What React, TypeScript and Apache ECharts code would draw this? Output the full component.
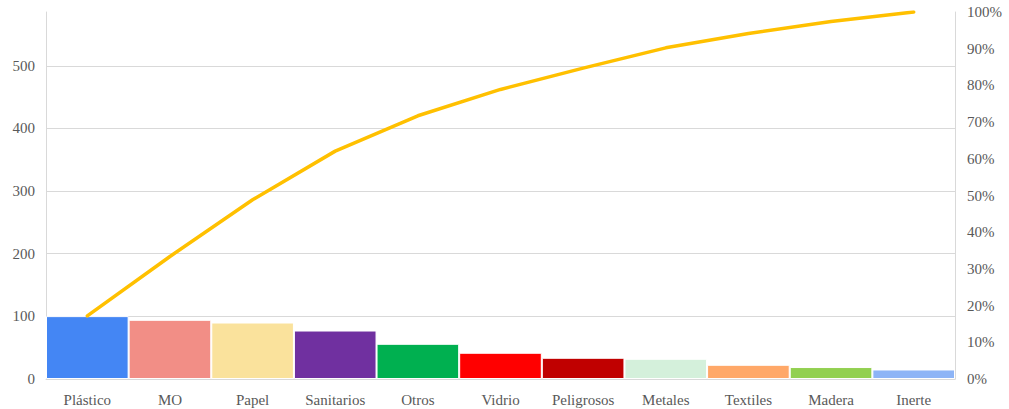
import React, { useEffect, useRef } from "react";
import * as echarts from "echarts";

const categories = ["Plástico", "MO", "Papel", "Sanitarios", "Otros", "Vidrio", "Peligrosos", "Metales", "Textiles", "Madera", "Inerte"];
const values = [100.4, 94.5, 90.2, 77.4, 56.2, 41.9, 33.9, 32.3, 22.7, 19.1, 15.2];
const barColors = ["#4486F4", "#F28E86", "#FAE29C", "#7030A0", "#00B050", "#FF0000", "#C00000", "#D4F0DB", "#FFA868", "#92D050", "#8DB4F6"];
const leftGridTicks = [100, 200, 300, 400, 500];
const leftMax = 586;

export default function App() {
  const ref = useRef<HTMLDivElement>(null);
  useEffect(() => {
    if (!ref.current) return;
    const chart = echarts.init(ref.current, undefined, { renderer: "svg" });
    const total = values.reduce((a, b) => a + b, 0);
    let acc = 0;
    const cumulative = values.map((v) => {
      acc += v;
      return acc / total;
    });
    const font = "Times New Roman";
    chart.setOption({
      animation: false,
      textStyle: { fontFamily: font },
      grid: { left: 46, right: 54, top: 12, bottom: 30, containLabel: false },
      xAxis: {
        type: "category",
        data: categories,
        axisLine: { show: true, lineStyle: { color: "#d9d9d9", width: 1 } },
        axisTick: { show: false },
        axisLabel: { color: "#595959", fontFamily: font, fontSize: 15, margin: 13, interval: 0 },
      },
      yAxis: [
        {
          type: "value",
          min: 0,
          max: leftMax,
          interval: 100,
          axisLine: { show: true, lineStyle: { color: "#d9d9d9", width: 1 } },
          axisTick: { show: false },
          splitLine: { show: false },
          axisLabel: {
            color: "#595959",
            fontFamily: font,
            fontSize: 15,
            margin: 11,
            formatter: (v: number) => (v % 100 === 0 ? String(v) : ""),
          },
        },
        {
          type: "value",
          min: 0,
          max: 1,
          interval: 0.1,
          position: "right",
          axisLine: { show: true, lineStyle: { color: "#d9d9d9", width: 1 } },
          axisTick: { show: false },
          splitLine: { show: false },
          axisLabel: {
            color: "#595959",
            fontFamily: font,
            fontSize: 15,
            margin: 12,
            formatter: (v: number) => Math.round(v * 100) + "%",
          },
        },
      ],
      series: [
        {
          type: "bar",
          yAxisIndex: 0,
          barCategoryGap: "0%",
          data: values.map((v, i) => ({
            value: v,
            itemStyle: { color: barColors[i], borderColor: "#ffffff", borderWidth: 1 },
          })),
          markLine: {
            silent: true,
            symbol: "none",
            label: { show: false },
            lineStyle: { color: "#d9d9d9", width: 1, type: "solid" },
            z: 0,
            data: leftGridTicks.map((t) => ({ yAxis: t })),
          },
          z: 2,
        },
        {
          type: "line",
          yAxisIndex: 1,
          data: cumulative,
          showSymbol: false,
          symbol: "none",
          lineStyle: { color: "#FFC000", width: 3.5, cap: "round" },
          z: 3,
        },
      ],
    });
    return () => chart.dispose();
  }, []);
  return <div ref={ref} style={{ width: 1009, height: 409, position: "absolute", left: 0, top: 0 }} />;
}
